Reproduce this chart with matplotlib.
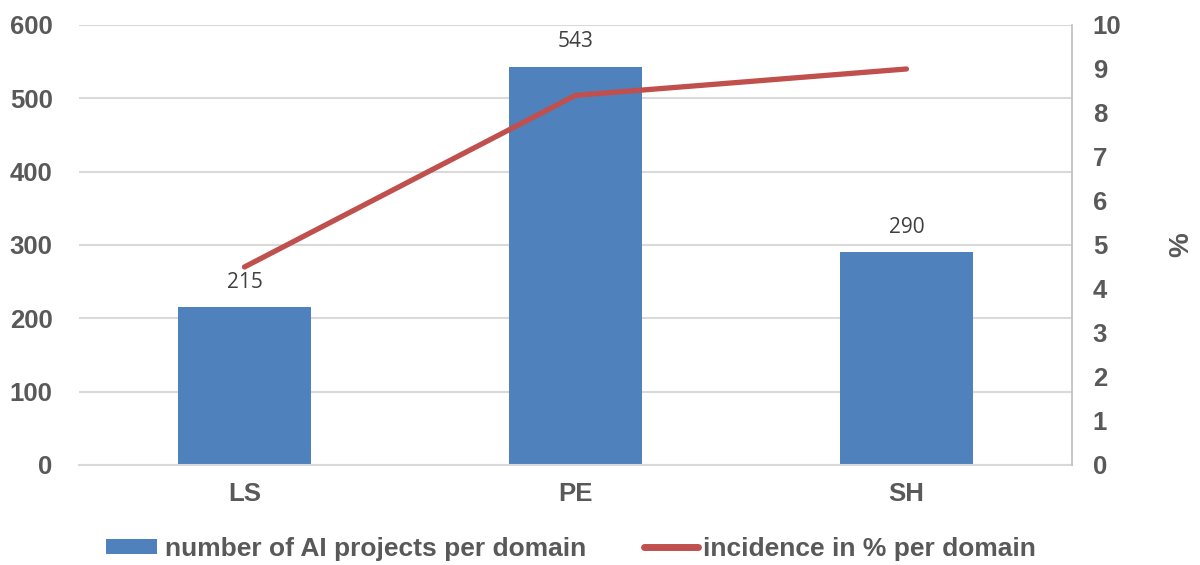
import matplotlib
matplotlib.use("Agg")
import matplotlib.pyplot as plt
from matplotlib.patches import Patch
from matplotlib.lines import Line2D
import numpy as np

domains = ["LS", "PE", "SH"]
projects = [215, 543, 290]
incidence = [4.5, 8.4, 9.0]

bar_color = "#4F81BD"
line_color = "#C0504D"
text_gray = "#595959"
grid_gray = "#D9D9D9"

plt.rcParams["font.family"] = ["Liberation Sans", "DejaVu Sans"]

fig = plt.figure(figsize=(12, 5.65), dpi=100)
ax = fig.add_axes([0.0658, 0.177, 0.8275, 0.7788])
x = np.arange(len(domains))

ax.bar(x, projects, width=0.4, color=bar_color, zorder=2)
for xi, v in zip(x, projects):
    ax.text(xi, v + 20, str(v), ha="center", va="bottom", fontsize=15,
            color="#404040", family=["Open Sans", "DejaVu Sans"])

ax.set_xlim(-0.5, 2.5)
ax.set_ylim(0, 600)
ax.set_yticks(range(0, 601, 100))
ax.set_xticks(x)
ax.set_xticklabels(domains)
ax.yaxis.grid(True, color=grid_gray, linewidth=1.5, zorder=0)
ax.set_axisbelow(True)
for side in ["top", "left", "right"]:
    ax.spines[side].set_visible(False)
ax.spines["bottom"].set_color(grid_gray)
ax.spines["bottom"].set_linewidth(1.5)
ax.tick_params(axis="both", length=0, labelsize=18.5, labelcolor=text_gray)
ax.tick_params(axis="x", pad=12)
ax.tick_params(axis="y", pad=19)
for lbl in ax.get_xticklabels() + ax.get_yticklabels():
    lbl.set_fontweight("bold")

ax2 = ax.twinx()
ax2.plot(x, incidence, color=line_color, linewidth=3.8, solid_capstyle="round", zorder=3)
ax2.set_ylim(0, 10)
ax2.set_yticks(range(0, 11))
for side in ["top", "left", "bottom"]:
    ax2.spines[side].set_visible(False)
ax2.spines["right"].set_color("#BFBFBF")
ax2.spines["right"].set_linewidth(1.2)
ax2.tick_params(axis="y", length=0, labelsize=18.5, labelcolor=text_gray, pad=15)
for lbl in ax2.get_yticklabels():
    lbl.set_fontweight("bold")
ax2.set_ylabel("%", fontsize=20, fontweight="bold", color=text_gray, va="center")
ax2.yaxis.set_label_coords(1.1098, 0.5)

# two separate legend entries so each handle can sit at its own spot
leg_font = {"family": ["Liberation Sans", "DejaVu Sans"], "weight": "bold", "size": 19}
leg_y = 1 - 549 / 565
leg1 = fig.legend([Patch(facecolor=bar_color, edgecolor="none")],
                  ["number of AI projects per domain"],
                  loc="center left", bbox_to_anchor=(106 / 1200, leg_y),
                  frameon=False, borderpad=0, borderaxespad=0,
                  handlelength=1.93, handleheight=0.53, handletextpad=0.3, prop=leg_font)
leg2 = fig.legend([Line2D([0], [0], color=line_color, linewidth=5, solid_capstyle="round")],
                  ["incidence in % per domain"],
                  loc="center left", bbox_to_anchor=(644 / 1200, leg_y),
                  frameon=False, borderpad=0, borderaxespad=0,
                  handlelength=2.05, handletextpad=0.2, prop=leg_font)
for leg in (leg1, leg2):
    for t in leg.get_texts():
        t.set_color(text_gray)

fig.savefig("out.png", dpi=100)
